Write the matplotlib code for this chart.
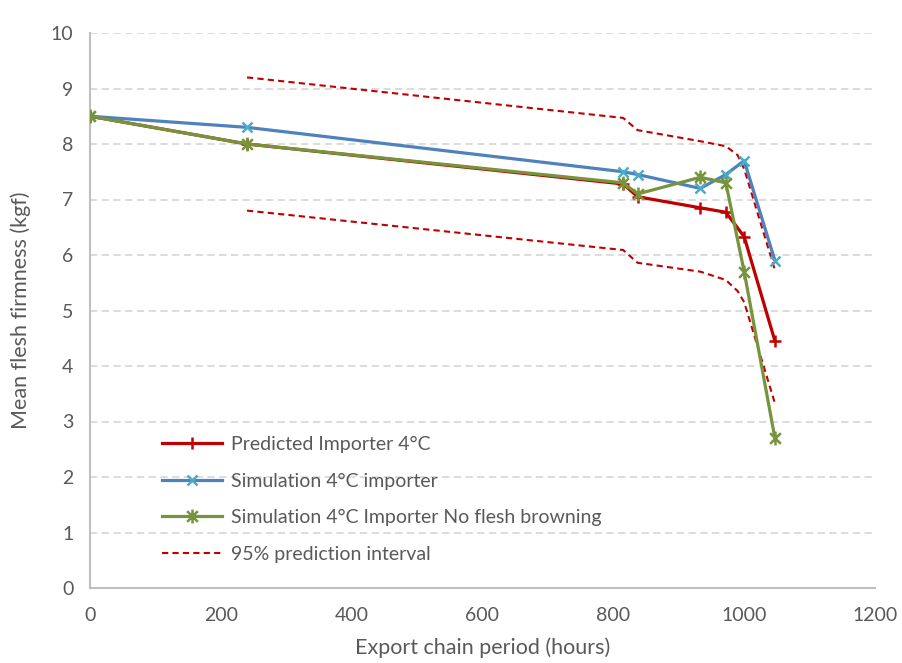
import numpy as np
import matplotlib
matplotlib.use("Agg")
import matplotlib.pyplot as plt
from matplotlib.path import Path

# data
hours = [0, 240, 815, 837, 933, 972, 1000, 1047]
predicted = [8.5, 8.0, 7.28, 7.05, 6.85, 6.77, 6.33, 4.45]
sim_importer = [8.5, 8.3, 7.5, 7.45, 7.2, 7.45, 7.7, 5.9]
sim_no_browning = [8.5, 8.0, 7.3, 7.1, 7.4, 7.3, 5.7, 2.7]

pi_hours = [240, 815, 837, 933, 972, 990, 1000, 1047]
pi_upper = [9.2, 8.47, 8.25, 8.05, 7.96, 7.8, 7.55, 5.73]
pi_lower = [6.8, 6.09, 5.86, 5.7, 5.55, 5.35, 5.15, 3.33]

xticks = [0, 200, 400, 600, 800, 1000, 1200]
yticks = list(range(0, 11))

plt.rcParams['font.family'] = ['Lato', 'DejaVu Sans']
grey = '#595959'

# excel-style star: an x with a vertical bar
star = Path([(-1, -1), (1, 1), (-1, 1), (1, -1), (0, -1.3), (0, 1.3)],
            [Path.MOVETO, Path.LINETO, Path.MOVETO, Path.LINETO, Path.MOVETO, Path.LINETO])

fig = plt.figure(figsize=(9.03, 6.63), dpi=100)
ax = fig.add_axes([90/903, 1-588/663, (875-90)/903, (588-33)/663])

ax.plot(hours, predicted, color='#C00000', lw=2.3, marker='+', ms=9, mew=1.8,
        label='Predicted Importer 4°C', zorder=3)
ax.plot(hours, sim_importer, color='#4F81BD', lw=2.3, marker='x', ms=7, mew=1.8,
        mec='#4BACC6', label='Simulation 4°C importer', zorder=3)
ax.plot(hours, sim_no_browning, color='#77933C', lw=2.3, marker=star, ms=10, mew=1.8,
        label='Simulation 4°C Importer No flesh browning', zorder=4)
ax.plot(pi_hours, pi_upper, color='#C00000', lw=1.5, ls=(0, (3, 2)),
        label='95% prediction interval', zorder=2)
ax.plot(pi_hours, pi_lower, color='#C00000', lw=1.5, ls=(0, (3, 2)), zorder=2)

ax.set_xlim(0, 1200)
ax.set_ylim(0, 10)
ax.set_xticks(xticks)
ax.set_yticks(yticks)
ax.tick_params(length=0, labelsize=14, colors=grey)
ax.tick_params(axis='x', pad=14)
ax.tick_params(axis='y', pad=12)
ax.yaxis.grid(True, color='#D9D9D9', ls=(0, (4, 2.5)), lw=1.3)
ax.set_axisbelow(True)
for s in ['top', 'right']:
    ax.spines[s].set_visible(False)
for s in ['left', 'bottom']:
    ax.spines[s].set_color('#BFBFBF')
    ax.spines[s].set_linewidth(1.5)

ax.set_xlabel('Export chain period (hours)', fontsize=15.5, color=grey, labelpad=9)
ax.set_ylabel('Mean flesh firmness (kgf)', fontsize=15.5, color=grey, labelpad=14)

leg = ax.legend(loc='lower left', bbox_to_anchor=(0.0694, 0.0144), frameon=False,
                fontsize=14, handlelength=3.1, handletextpad=0.43, labelspacing=1.0)
for t in leg.get_texts():
    t.set_color(grey)

fig.savefig('out.png', dpi=100)
